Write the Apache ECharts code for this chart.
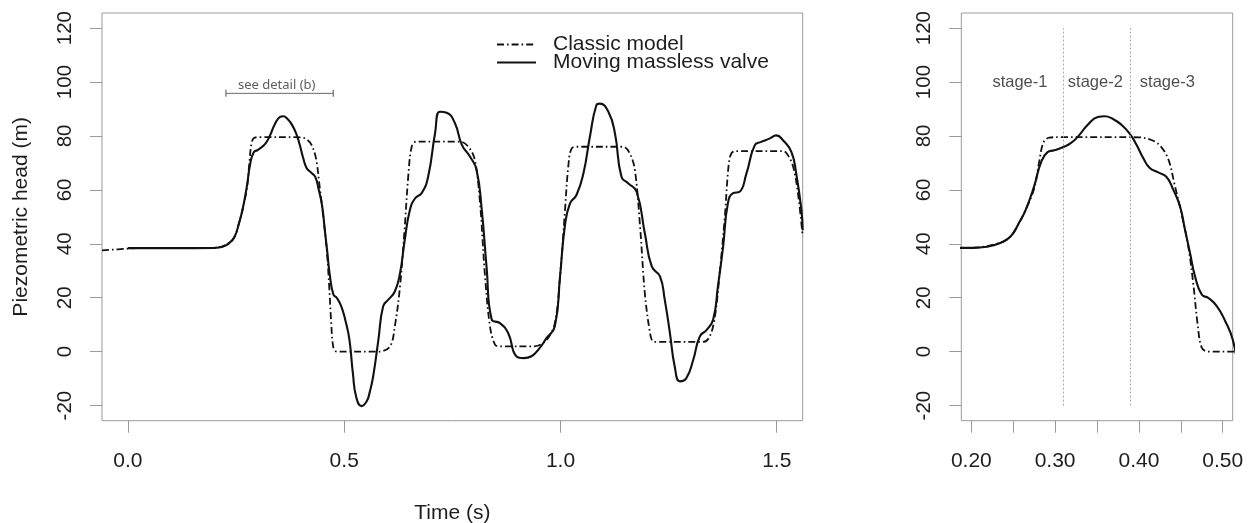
<!DOCTYPE html>
<html>
<head>
<meta charset="utf-8">
<script src="https://cdn.jsdelivr.net/npm/echarts@6/dist/echarts.min.js"></script>
<style>
  html, body { margin: 0; padding: 0; background: #fff; }
  #chart { width: 1252px; height: 523px; }
</style>
</head>
<body>
<div id="chart"></div>
<script>
// Piezometric head at the valve: classic model vs. moving massless valve
const classicTime = [-0.060, 0.000, 0.020, 0.200, 0.235, 0.247, 0.257, 0.265, 0.275, 0.281, 0.286, 0.293, 0.310, 0.400, 0.415, 0.425, 0.435, 0.443, 0.451, 0.459, 0.465, 0.470, 0.475, 0.483, 0.580, 0.606, 0.617, 0.629, 0.640, 0.648, 0.656, 0.667, 0.768, 0.787, 0.802, 0.814, 0.825, 0.837, 0.849, 0.860, 0.940, 0.968, 0.987, 0.999, 1.010, 1.018, 1.026, 1.041, 1.145, 1.160, 1.172, 1.184, 1.195, 1.207, 1.214, 1.225, 1.330, 1.345, 1.357, 1.368, 1.380, 1.387, 1.393, 1.403, 1.515, 1.526, 1.538, 1.549, 1.560];
const classicHead = [37.6, 38.2, 38.4, 38.5, 40.4, 42.8, 47.8, 52.7, 60.5, 70.5, 77.5, 79.4, 79.6, 79.5, 78.5, 76.5, 71.5, 61.5, 51.0, 39.0, 25.0, 10.5, 1.5, 0.0, 0.0, 2.0, 9.4, 24.2, 46.4, 64.9, 76.0, 77.9, 77.9, 76.0, 71.1, 55.1, 29.1, 9.4, 2.5, 2.0, 2.0, 4.4, 10.6, 27.9, 51.4, 68.6, 75.4, 76.0, 76.0, 73.6, 67.4, 46.4, 21.7, 6.9, 3.8, 3.6, 3.6, 5.6, 13.0, 29.1, 50.1, 66.1, 72.8, 74.4, 74.4, 72.8, 68.6, 58.8, 42.7];

const valveTime = [0.000, 0.100, 0.200, 0.219, 0.235, 0.247, 0.257, 0.265, 0.275, 0.283, 0.291, 0.299, 0.309, 0.319, 0.329, 0.339, 0.351, 0.359, 0.369, 0.379, 0.389, 0.397, 0.405, 0.413, 0.423, 0.433, 0.441, 0.449, 0.455, 0.461, 0.467, 0.475, 0.483, 0.493, 0.503, 0.512, 0.520, 0.528, 0.540, 0.552, 0.559, 0.567, 0.579, 0.590, 0.602, 0.617, 0.629, 0.640, 0.652, 0.664, 0.679, 0.694, 0.710, 0.721, 0.737, 0.756, 0.772, 0.791, 0.806, 0.818, 0.829, 0.841, 0.860, 0.879, 0.898, 0.915, 0.933, 0.952, 0.968, 0.987, 0.999, 1.010, 1.022, 1.037, 1.053, 1.068, 1.083, 1.091, 1.111, 1.126, 1.141, 1.157, 1.176, 1.195, 1.211, 1.230, 1.241, 1.253, 1.264, 1.276, 1.291, 1.307, 1.322, 1.338, 1.353, 1.364, 1.376, 1.387, 1.399, 1.414, 1.430, 1.449, 1.464, 1.483, 1.499, 1.515, 1.534, 1.545, 1.557, 1.560];
const valveHead = [38.4, 38.4, 38.5, 38.9, 40.4, 42.8, 47.8, 52.7, 61.4, 70.0, 74.0, 74.7, 75.8, 77.4, 80.4, 84.2, 87.0, 87.3, 86.3, 84.2, 80.9, 76.8, 71.9, 68.1, 66.5, 64.8, 60.1, 54.0, 45.3, 36.7, 28.0, 21.2, 19.9, 16.9, 11.4, 4.5, -8.0, -17.0, -20.2, -18.4, -15.0, -9.1, 4.4, 16.8, 19.3, 22.3, 29.1, 41.5, 52.6, 56.9, 58.8, 64.9, 81.0, 89.0, 88.6, 84.7, 76.7, 72.3, 67.4, 52.6, 31.6, 11.9, 10.6, 6.9, -1.7, -2.4, -1.7, 1.4, 5.1, 9.4, 27.9, 46.4, 55.0, 58.1, 66.1, 79.7, 91.4, 92.0, 88.9, 80.9, 64.9, 62.4, 59.3, 43.9, 31.6, 27.9, 19.3, 6.9, -5.4, -11.0, -9.8, -3.0, 5.6, 8.1, 11.9, 24.2, 39.0, 55.0, 58.8, 59.3, 66.1, 76.5, 77.8, 79.0, 80.2, 78.3, 74.0, 66.1, 52.6, 45.0];

// Axis ticks and labels
const headTicks = [-20, 0, 20, 40, 60, 80, 100, 120];
const timeTicks = [0, 0.5, 1.0, 1.5];
const detailTicks = [0.20, 0.25, 0.30, 0.35, 0.40, 0.45, 0.50];
const detailLabels = [0.20, 0.30, 0.40, 0.50];

// Annotations
const detailSpan = [0.2265, 0.4746];
const detailSpanHead = 95.8;
const detailNote = { text: 'see detail (b)', time: 0.344, head: 98.8 };
const stageBounds = [0.31, 0.39];
const stageNames = ['stage-1', 'stage-2', 'stage-3'];
const stageTimes = [0.258, 0.348, 0.434];
const stageHead = 100;

const SERIES_CLASSIC = 'Classic model';
const SERIES_VALVE = 'Moving massless valve';

const pair = (xs, ys) => xs.map((x, i) => [x, ys[i]]);
const classicData = pair(classicTime, classicHead);
const valveData = pair(valveTime, valveHead);

const FONT = '"Liberation Sans", Arial, sans-serif';
const BOX = '#9a9a9a';
const INK = '#1e1e1e';

const classicStyle = { color: '#111', width: 1.8, type: [7, 3, 1.6, 3] };
const valveStyle = { color: '#111', width: 2.1, type: 'solid' };

function headAxis(gridIndex, withName) {
  return {
    type: 'value', gridIndex,
    min: -25.6, max: 125.6,
    axisLine: { show: false, onZero: false },
    splitLine: { show: false },
    axisTick: { show: true, inside: false, length: 12, lineStyle: { color: BOX }, customValues: headTicks },
    axisLabel: { show: true, rotate: 90, margin: 26, color: INK, fontFamily: FONT, fontSize: 20.5, customValues: headTicks, formatter: v => String(v) },
    name: withName ? 'Piezometric head (m)' : '',
    nameLocation: 'middle', nameRotate: 90, nameGap: 70,
    nameTextStyle: { color: INK, fontFamily: FONT, fontSize: 21 }
  };
}

function timeAxis(gridIndex, range, ticks, labels, digits, title) {
  return {
    type: 'value', gridIndex, min: range[0], max: range[1],
    axisLine: { show: false, onZero: false }, splitLine: { show: false },
    axisTick: { show: true, inside: false, length: 12, lineStyle: { color: BOX }, customValues: ticks },
    axisLabel: { show: true, margin: 30, color: INK, fontFamily: FONT, fontSize: 21, customValues: labels, formatter: v => v.toFixed(digits) },
    name: title, nameLocation: 'middle', nameGap: 82,
    nameTextStyle: { color: INK, fontFamily: FONT, fontSize: 21 }
  };
}

const chart = echarts.init(document.getElementById('chart'), null, { renderer: 'canvas' });

chart.setOption({
  animation: false,
  backgroundColor: '#fff',
  grid: [
    { left: 102, top: 13, width: 700.7, height: 407.7, outerBoundsMode: 'none', show: true, borderColor: BOX, borderWidth: 1, backgroundColor: 'transparent' },
    { left: 961.3, top: 13, width: 271.4, height: 407.7, outerBoundsMode: 'none', show: true, borderColor: BOX, borderWidth: 1, backgroundColor: 'transparent' }
  ],
  xAxis: [
    timeAxis(0, [-0.06, 1.56], timeTicks, timeTicks, 1, 'Time (s)'),
    timeAxis(1, [0.188, 0.512], detailTicks, detailLabels, 2, '')
  ],
  yAxis: [headAxis(0, true), headAxis(1, false)],
  legend: {
    show: true,
    orient: 'vertical',
    left: 491, top: 29,
    itemWidth: 39, itemHeight: 10, itemGap: -3,
    data: [SERIES_CLASSIC, SERIES_VALVE],
    itemStyle: { opacity: 0 },
    textStyle: { color: INK, fontFamily: FONT, fontSize: 21, padding: [0, 0, 0, 12] },
    selectedMode: false
  },
  series: [
    {
      name: SERIES_CLASSIC, type: 'line', xAxisIndex: 0, yAxisIndex: 0,
      data: classicData, showSymbol: false, symbol: 'none',
      smooth: 0.35,
      lineStyle: classicStyle, itemStyle: { color: '#111' }, z: 3
    },
    {
      name: SERIES_VALVE, type: 'line', xAxisIndex: 0, yAxisIndex: 0,
      data: valveData, showSymbol: false, symbol: 'none',
      smooth: 0.5,
      lineStyle: valveStyle, itemStyle: { color: '#111' }, z: 4
    },
    {
      name: 'detail-span', type: 'line', xAxisIndex: 0, yAxisIndex: 0,
      data: detailSpan.map(t => [t, detailSpanHead]),
      symbol: 'rect', symbolSize: [1.2, 7], showSymbol: true,
      lineStyle: { color: '#6a6a6a', width: 1 }, itemStyle: { color: '#6a6a6a' },
      silent: true, z: 2
    },
    {
      name: 'detail-note', type: 'scatter', xAxisIndex: 0, yAxisIndex: 0,
      data: [[detailNote.time, detailNote.head]],
      symbol: 'circle', symbolSize: 1, itemStyle: { color: 'rgba(0,0,0,0)' },
      label: { show: true, position: 'inside', formatter: detailNote.text, color: '#333', fontFamily: '"Noto Sans", "Open Sans", sans-serif', fontSize: 13 },
      silent: true
    },
    {
      name: SERIES_CLASSIC, type: 'line', xAxisIndex: 1, yAxisIndex: 1,
      data: classicData, showSymbol: false, symbol: 'none',
      smooth: 0.35,
      lineStyle: classicStyle, itemStyle: { color: '#111' }, z: 3,
      markLine: {
        silent: true, symbol: 'none', label: { show: false },
        lineStyle: { color: '#a8a8a8', width: 1, type: [2, 2] },
        data: stageBounds.map(t => [{ coord: [t, -20] }, { coord: [t, 120] }])
      }
    },
    {
      name: SERIES_VALVE, type: 'line', xAxisIndex: 1, yAxisIndex: 1,
      data: valveData, showSymbol: false, symbol: 'none',
      smooth: 0.5,
      lineStyle: valveStyle, itemStyle: { color: '#111' }, z: 4
    },
    {
      name: 'stage-names', type: 'scatter', xAxisIndex: 1, yAxisIndex: 1,
      data: stageNames.map((n, i) => ({ name: n, value: [stageTimes[i], stageHead] })),
      symbol: 'circle', symbolSize: 1, itemStyle: { color: 'rgba(0,0,0,0)' },
      label: { show: true, position: 'inside', formatter: p => p.name, color: INK, fontFamily: FONT, fontSize: 16.5 },
      silent: true
    }
  ]
});
</script>
</body>
</html>
